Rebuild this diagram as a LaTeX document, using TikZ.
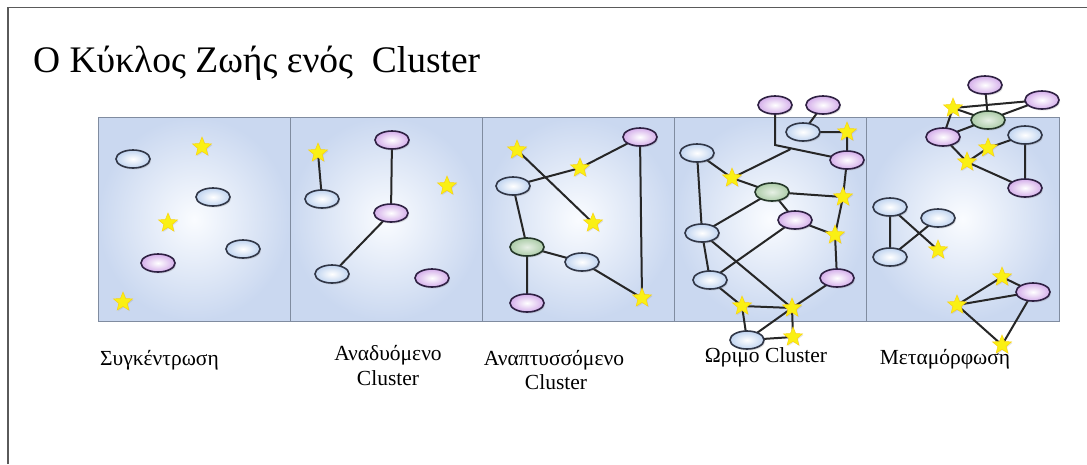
\documentclass[tikz,border=0pt]{standalone}
\usepackage{fontspec}
\setmainfont{Liberation Serif}
\usetikzlibrary{shapes.geometric,shadows}
\pgfdeclarelayer{bg}
\pgfdeclarelayer{edges}
\pgfsetlayers{bg,edges,main}
\definecolor{blueC}{RGB}{192,212,240}
\definecolor{pinkC}{RGB}{212,174,234}
\definecolor{greenC}{RGB}{172,204,168}
\definecolor{panelC}{RGB}{202,216,240}
\definecolor{panelLine}{RGB}{128,140,160}
\definecolor{ellLine}{RGB}{48,54,70}
\definecolor{pinkLine}{RGB}{46,32,66}
\definecolor{greenLine}{RGB}{36,54,40}
\definecolor{starY}{RGB}{250,240,20}
\definecolor{linkC}{RGB}{38,38,38}
\definecolor{frameC}{RGB}{90,90,90}
\tikzset{
  ell/.style={ellipse, minimum width=34pt, minimum height=18pt, inner sep=0pt,
    line width=1.6pt, drop shadow={opacity=0.25, shadow xshift=1.2pt, shadow yshift=-1.5pt}},
  bl/.style={ell, draw=ellLine, inner color=white, outer color=blueC},
  pk/.style={ell, draw=pinkLine, inner color=white, outer color=pinkC},
  gn/.style={ell, draw=greenLine, inner color=white!70!greenC, outer color=greenC},
  st/.style={star, star points=5, star point ratio=2.3, minimum size=20pt, inner sep=0pt,
    fill=starY, draw=starY!75!orange, line width=0.5pt,
    drop shadow={opacity=0.2, shadow xshift=1pt, shadow yshift=-1pt}},
  lk/.style={line width=2pt, draw=linkC, line cap=round},
  lbl/.style={font=\fontsize{21.5}{24}\selectfont, align=center, inner sep=0pt},
  panel/.style={draw=panelLine, line width=0.9pt, inner color={rgb,255:red,250;green,252;blue,255}, outer color=panelC}
}
\begin{document}
\begin{tikzpicture}[x=1pt,y=-1pt]
\useasboundingbox (0,0) rectangle (1087,464);
\begin{pgfonlayer}{bg}
\fill[white] (0,0) rectangle (1087,464);
\draw[frameC, line width=1.6pt] (8,464) -- (8,7.5) -- (1087,7.5);
\foreach \xa/\xb in {98/290,290/482,482/674,674/866,866/1059}
  \shade[panel] (\xa,117) rectangle (\xb,321);
\end{pgfonlayer}

% title
\node[anchor=base west, inner sep=0pt, font=\fontsize{37.5}{40}\selectfont] (title) at (33,72) {O Κύκλος Ζωής ενός \ Cluster};

% panel 1
\node[bl] (a1) at (133,159) {};
\node[st] (a2) at (202,147) {};
\node[bl] (a3) at (213,197) {};
\node[st] (a4) at (168,223) {};
\node[bl] (a5) at (243,249) {};
\node[pk] (a6) at (158,263) {};
\node[st] (a7) at (123,302) {};

% panel 2
\node[st] (b1) at (318,153) {};
\node[bl] (b2) at (322,199) {};
\node[pk] (b3) at (392,140) {};
\node[pk] (b4) at (391,213) {};
\node[bl] (b5) at (332,274) {};
\node[st] (b6) at (447,186) {};
\node[pk] (b7) at (432,278) {};

% panel 3
\node[st] (c1) at (517,150) {};
\node[pk] (c2) at (640,137) {};
\node[st] (c3) at (580,168) {};
\node[bl] (c4) at (513,186) {};
\node[st] (c5) at (593,223) {};
\node[gn] (c6) at (527,247) {};
\node[bl] (c7) at (582,262) {};
\node[pk] (c8) at (527,303) {};
\node[st] (c9) at (642,298) {};

% panel 4
\node[pk] (d1) at (775,105) {};
\node[pk] (d2) at (823,105) {};
\node[bl] (d3) at (803,132) {};
\node[st] (d4) at (847,132) {};
\node[pk] (d5) at (847,160) {};
\node[bl] (d6) at (697,153) {};
\node[st] (d7) at (732,178) {};
\node[gn] (d8) at (772,192) {};
\node[st] (d9) at (843,197) {};
\node[pk] (d10) at (795,220) {};
\node[bl] (d11) at (702,233) {};
\node[st] (d12) at (835,235) {};
\node[bl] (d13) at (710,280) {};
\node[pk] (d14) at (837,278) {};
\node[st] (d15) at (742,306) {};
\node[st] (d16) at (792,308) {};
\node[bl] (d17) at (747,340) {};
\node[st] (d18) at (793,337) {};
\coordinate (dJ) at (775,145);
\coordinate (dK) at (790,149.4);

% panel 5
\node[pk] (e1) at (985,85) {};
\node[pk] (e2) at (1042,100) {};
\node[st] (e3) at (953,108) {};
\node[gn] (e4) at (988,120) {};
\node[pk] (e5) at (943,137) {};
\node[bl] (e6) at (1025,135) {};
\node[st] (e7) at (988,148) {};
\node[st] (e8) at (967,162) {};
\node[pk] (e9) at (1025,188) {};
\node[bl] (e10) at (890,207) {};
\node[bl] (e11) at (938,218) {};
\node[bl] (e12) at (890,257) {};
\node[st] (e13) at (938,250) {};
\node[st] (e14) at (1002,277) {};
\node[pk] (e15) at (1033,292) {};
\node[st] (e16) at (957,305) {};
\node[st] (e17) at (1002,345) {};

\begin{pgfonlayer}{edges}
\draw[lk] (b1.center) -- (b2.center);
\draw[lk] (b3.center) -- (b4.center);
\draw[lk] (b4.center) -- (b5.center);

\draw[lk] (c4.center) -- (c3.center) -- (c2.center);
\draw[lk] (c1.center) -- (c5.center);
\draw[lk] (c4.center) -- (c6.center) -- (c8.center);
\draw[lk] (c6.center) -- (c7.center) -- (c9.center);
\draw[lk] (c2.center) -- (c9.center);

\draw[lk] (d2.center) -- (d3.center) -- (d4.center) -- (d5.center);
\draw[lk] (d1.center) -- (dJ) -- (d5.center);
\draw[lk] (d7.center) -- (dK);
\draw[lk] (d6.center) -- (d7.center) -- (d8.center) -- (d9.center);
\draw[lk] (d5.center) -- (d9.center) -- (d12.center) -- (d14.center);
\draw[lk] (d8.center) -- (d10.center) -- (d12.center);
\draw[lk] (d8.center) -- (d11.center);
\draw[lk] (d6.center) -- (d11.center) -- (d13.center);
\draw[lk] (d11.center) -- (d16.center);
\draw[lk] (d13.center) -- (d10.center);
\draw[lk] (d13.center) -- (d15.center) -- (d16.center) -- (d14.center);
\draw[lk] (d15.center) -- (d17.center) -- (d16.center) -- (d18.center) -- (d17.center);

\draw[lk] (e1.center) -- (e4.center);
\draw[lk] (e3.center) -- (e2.center);
\draw[lk] (e3.center) -- (e4.center) -- (e2.center);
\draw[lk] (e3.center) -- (e5.center) -- (e4.center);
\draw[lk] (e6.center) -- (e7.center) -- (e8.center) -- (e9.center) -- (e6.center);
\draw[lk] (e5.center) -- (e8.center);
\draw[lk] (e10.center) -- (e12.center) -- (e11.center);
\draw[lk] (e10.center) -- (e13.center);
\draw[lk] (e16.center) -- (e14.center) -- (e15.center) -- (e16.center) -- (e17.center) -- (e15.center);
\end{pgfonlayer}

% labels
\node[lbl, anchor=base west] (l1) at (100,365) {Συγκέντρωση};
\node[lbl, anchor=base] (l2a) at (388,360) {Αναδυόμενο};
\node[lbl, anchor=base] (l2b) at (388,385) {Cluster};
\node[lbl, anchor=base] (l3a) at (554,365) {Αναπτυσσόμενο};
\node[lbl, anchor=base] (l3b) at (556,389) {Cluster};
\node[lbl, anchor=base] (l4) at (766,362) {Ωριμο Cluster};
\node[lbl, anchor=base] (l5) at (945,364) {Μεταμόρφωση};
\end{tikzpicture}
\end{document}
